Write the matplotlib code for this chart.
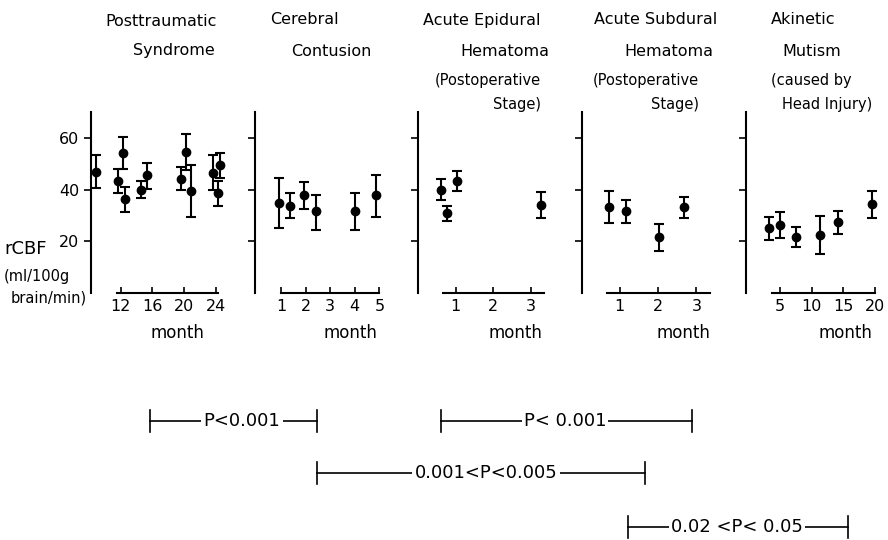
import matplotlib
matplotlib.use('Agg')
import matplotlib.pyplot as plt
from matplotlib.lines import Line2D
import numpy as np

matplotlib.rcParams.update({'font.family': 'DejaVu Sans', 'font.size': 11})

# Values: month, mean rCBF, top and bottom of the bar
pt_month = [8.95, 11.7, 12.25, 12.5, 14.5, 15.3, 19.55, 20.2, 20.9, 23.6, 24.3, 24.5]
pt_mean = [46.8, 43.4, 54.2, 36.3, 39.7, 45.5, 44.0, 54.6, 39.4, 46.6, 38.5, 49.5]
pt_hi = [53.5, 48.1, 60.4, 41.0, 43.4, 50.3, 48.8, 61.7, 49.4, 53.3, 43.4, 54.3]
pt_lo = [40.4, 38.7, 48.1, 31.2, 36.8, 40.1, 39.7, 47.5, 29.2, 40.0, 33.5, 44.6]

cc_month = [0.9, 1.35, 1.95, 2.43, 3.99, 4.86]
cc_mean = [34.8, 33.7, 37.7, 31.5, 31.7, 37.7]
cc_hi = [44.6, 38.5, 43.0, 37.8, 38.7, 45.5]
cc_lo = [25.2, 28.8, 32.6, 24.1, 24.3, 29.4]

ed_month = [0.6, 0.77, 1.04, 3.28]
ed_mean = [40.0, 30.7, 43.2, 33.9]
ed_hi = [44.0, 33.7, 47.1, 39.1]
ed_lo = [35.9, 27.9, 39.4, 29.0]

sd_month = [0.71, 1.17, 2.02, 2.69]
sd_mean = [33.3, 31.7, 21.7, 33.3]
sd_hi = [39.4, 35.9, 26.6, 37.2]
sd_lo = [27.1, 27.1, 16.1, 28.8]

am_month = [3.3, 5.0, 7.5, 11.4, 14.2, 19.6]
am_mean = [24.9, 26.2, 21.7, 22.3, 27.2, 34.2]
am_hi = [29.4, 31.4, 25.3, 29.8, 31.6, 39.4]
am_lo = [20.4, 21.0, 17.8, 14.8, 22.7, 29.0]

W, H = 888, 540
fig = plt.figure(figsize=(W / 100, H / 100), dpi=100)

def fx(x):
    return x / W

def fy(y):
    return 1 - y / H

# panel: left px, width px, xlim, x-axis bounds, xticks, data
panels = [
    (91, 150, (8.26, 27.15), (11.5, 24.2), [12, 16, 20, 24], pt_month, pt_mean, pt_hi, pt_lo),
    (255, 145, (-0.057, 5.84), (1, 5), [1, 2, 3, 4, 5], cc_month, cc_mean, cc_hi, cc_lo),
    (418, 145, (-0.005, 3.86), (0.66, 3.35), [1, 2, 3], ed_month, ed_mean, ed_hi, ed_lo),
    (582, 145, (0.018, 3.80), (0.67, 3.35), [1, 2, 3], sd_month, sd_mean, sd_hi, sd_lo),
    (746, 140, (-0.37, 21.75), (3.8, 20), [5, 10, 15, 20], am_month, am_mean, am_hi, am_lo),
]

bottom, top = 292.5, 292.5 - 70 * 2.575
for i, (left, width, xl, xb, xt, m, mu, hi, lo) in enumerate(panels):
    ax = fig.add_axes([fx(left), fy(bottom), width / W, (bottom - top) / H])
    mu = np.array(mu)
    yerr = [mu - np.array(lo), np.array(hi) - mu]
    ax.errorbar(m, mu, yerr=yerr, fmt='o', color='black', ms=6,
                elinewidth=1.5, capsize=3.5, capthick=1.5, clip_on=False)
    ax.set_xlim(xl)
    ax.set_ylim(0, 70)
    ax.spines['top'].set_visible(False)
    ax.spines['right'].set_visible(False)
    ax.spines['left'].set_linewidth(1.5)
    ax.spines['bottom'].set_linewidth(1.5)
    ax.spines['bottom'].set_bounds(*xb)
    ax.set_xticks(xt)
    ax.set_yticks([20, 40, 60])
    ax.tick_params(axis='x', direction='in', length=4, width=1.2, labelsize=11.5, pad=5)
    ax.tick_params(axis='y', direction='out', length=5, width=1.2, labelsize=11.5)
    if i > 0:
        ax.set_yticklabels([])
    ax.patch.set_visible(False)

# panel titles
titles = [
    ('Posttraumatic', 105, 22, 11.5, 'left'), ('Syndrome', 133, 51, 11.5, 'left'),
    ('Cerebral', 270, 20, 11.5, 'left'), ('Contusion', 291, 51, 11.5, 'left'),
    ('Acute Epidural', 423, 20, 11.5, 'left'), ('Hematoma', 460, 51, 11.5, 'left'),
    ('(Postoperative', 541, 81, 10.5, 'right'), ('Stage)', 541, 104, 10.5, 'right'),
    ('Acute Subdural', 594, 20, 11.5, 'left'), ('Hematoma', 624, 51, 11.5, 'left'),
    ('(Postoperative', 699, 81, 10.5, 'right'), ('Stage)', 699, 104, 10.5, 'right'),
    ('Akinetic', 771, 20, 11.5, 'left'), ('Mutism', 782, 51, 11.5, 'left'),
    ('(caused by', 771, 81, 10.5, 'left'), ('Head Injury)', 782, 104, 10.5, 'left'),
]
for txt, x, y, fs, ha in titles:
    fig.text(fx(x), fy(y), txt, fontsize=fs, ha=ha, va='center')

# y label
fig.text(fx(4), fy(249), 'rCBF', fontsize=13, va='center')
fig.text(fx(4), fy(277), '(ml/100g', fontsize=10.5, va='center')
fig.text(fx(11), fy(298), 'brain/min)', fontsize=10.5, va='center')

# month labels
for x in [177, 350, 515, 683, 845]:
    fig.text(fx(x), fy(333), 'month', fontsize=12, ha='center', va='center')

# significance brackets
brackets = [
    ('P<0.001', 150, 317, 242, 421),
    ('P< 0.001', 441, 692, 565, 421),
    ('0.001<P<0.005', 317, 645, 486, 473),
    ('0.02 <P< 0.05', 628, 848, 737, 527),
]
for txt, x0, x1, xc, y in brackets:
    fig.add_artist(Line2D([fx(x0), fx(x1)], [fy(y), fy(y)], color='black', lw=1.2))
    for xe in (x0, x1):
        fig.add_artist(Line2D([fx(xe), fx(xe)], [fy(y - 11), fy(y + 11)], color='black', lw=1.2))
    fig.text(fx(xc), fy(y), txt, fontsize=13, ha='center', va='center',
             bbox=dict(facecolor='white', edgecolor='none', pad=1.5))

fig.savefig('out.png', dpi=100)
